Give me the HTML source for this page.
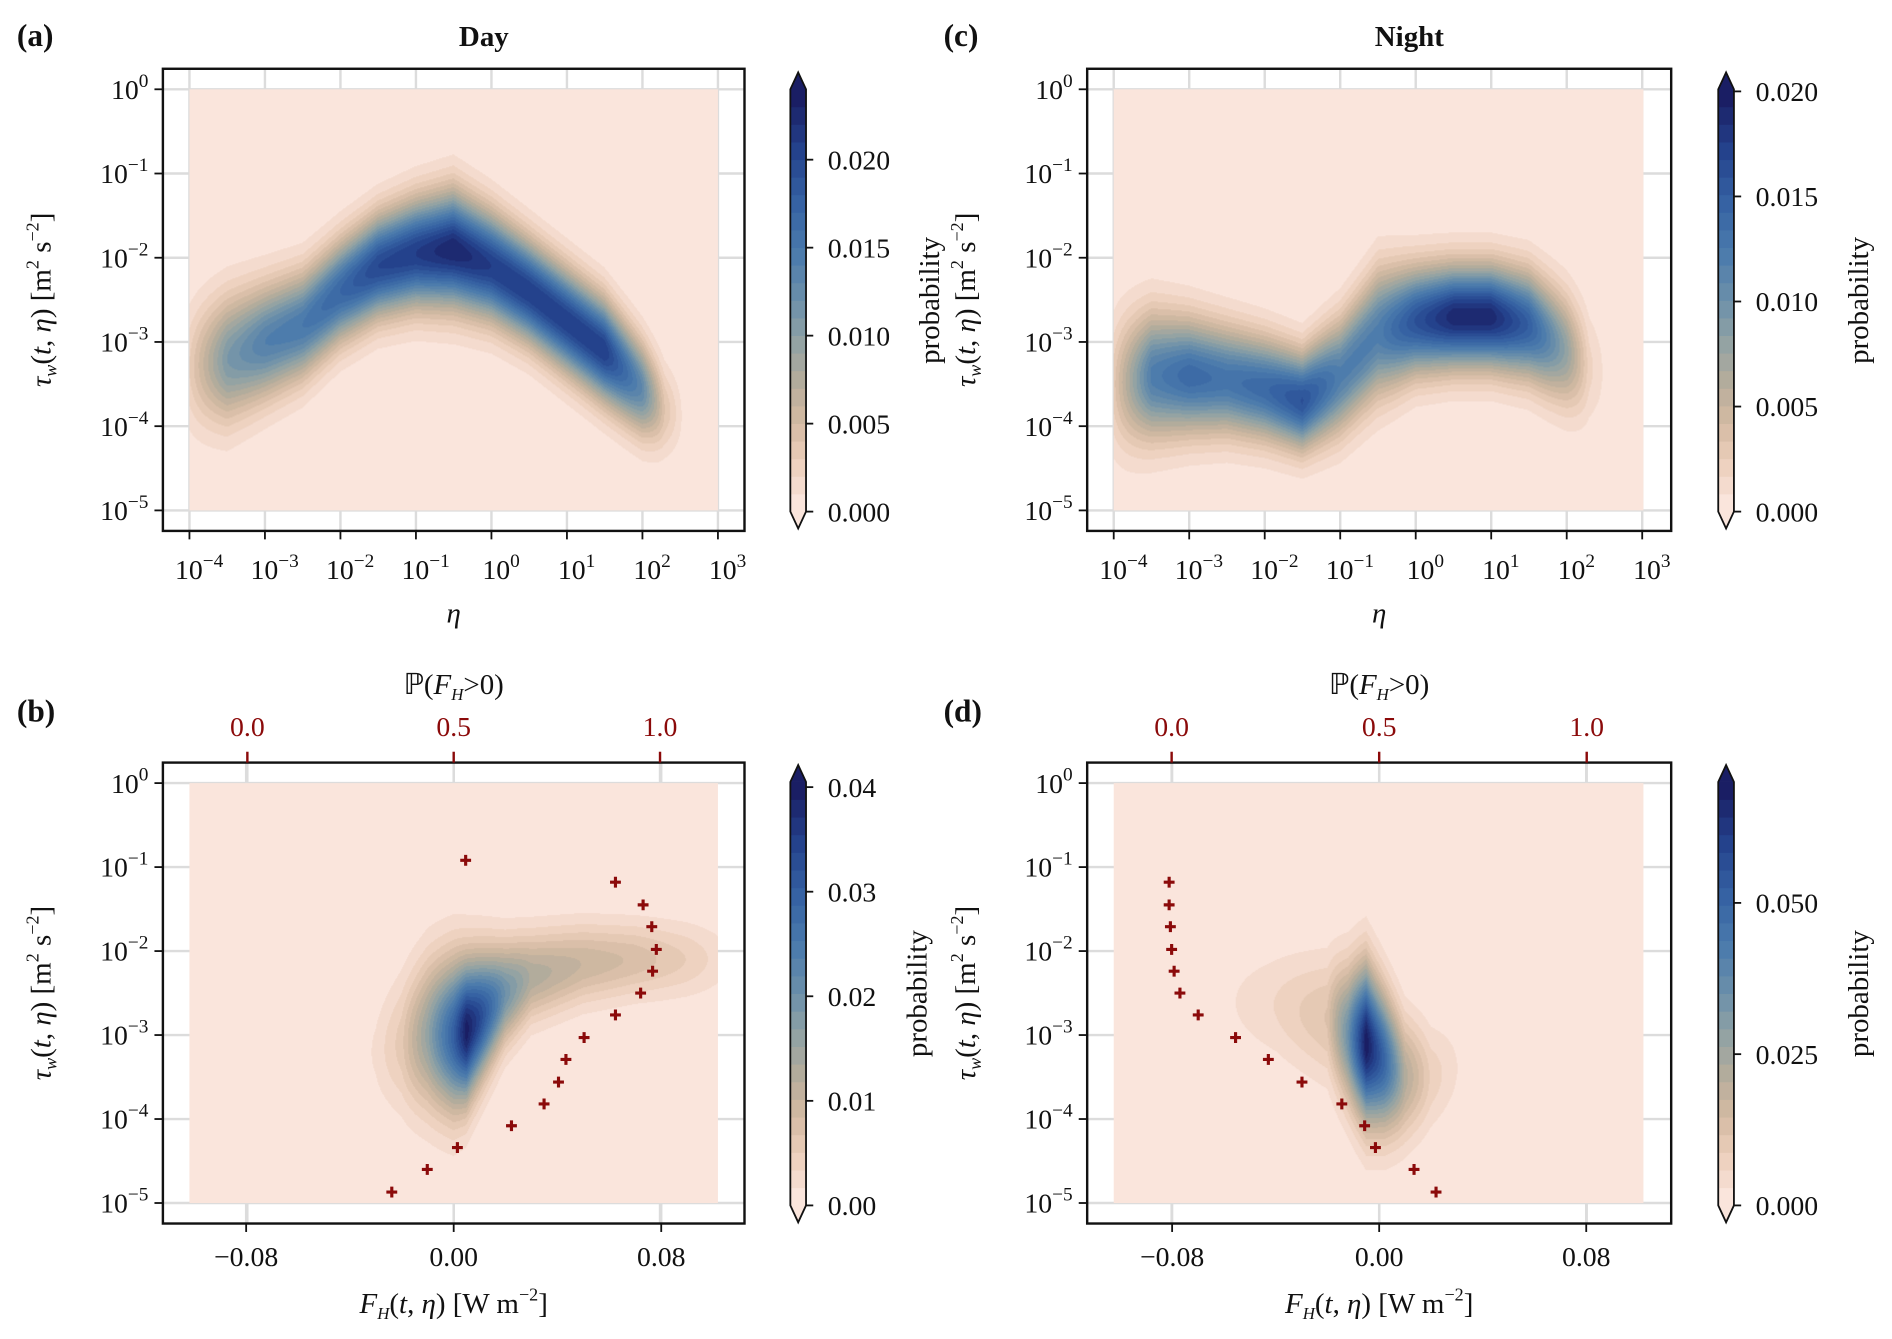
<!DOCTYPE html>
<html><head><meta charset="utf-8">
<style>
html,body{margin:0;padding:0;background:#fff;}
#wrap{position:absolute;left:0;top:0;width:1568px;height:1110px;transform:scale(1.20663);transform-origin:0 0;overflow:hidden;}
#wrap svg{position:absolute;left:0;top:0;}
canvas{position:absolute;}
text{font-family:"Liberation Serif",serif;fill:#111;}
</style></head>
<body>
<div id="wrap">
<svg id="gridsvg" width="1568" height="1110" viewBox="0 0 1568 1110"></svg>
<svg id="svg" width="1568" height="1110" viewBox="0 0 1568 1110"></svg>
</div>
<script>
// ===== DATA =====
const aRidgeX = [-4.2,-4,-3.5,-3,-2.5,-2,-1.5,-1,-0.5,0,0.5,1,1.5,2,2.3,2.6];
const aRidgeY = [-3.3,-3.3,-3.2,-3.0,-2.8,-2.4,-2.1,-1.95,-1.9,-2.1,-2.4,-2.75,-3.1,-3.55,-3.8,-3.9];
const aRidgePeak = [0,0.003,0.011,0.014,0.015,0.017,0.02,0.021,0.023,0.021,0.021,0.021,0.021,0.013,0.004,0];
const aRidgeW = [0.5,0.5,0.5,0.45,0.42,0.4,0.4,0.42,0.45,0.42,0.4,0.4,0.4,0.38,0.35,0.3];
const cRidgeX = [-4.2,-4,-3.5,-3,-2.5,-2,-1.5,-1,-0.5,0,0.5,1,1.5,2,2.3,2.6];
const cRidgeY = [-3.5,-3.5,-3.4,-3.4,-3.45,-3.55,-3.7,-3.4,-2.9,-2.75,-2.7,-2.7,-2.8,-3.1,-3.3,-3.4];
const cRidgePeak = [0,0.003,0.012,0.014,0.013,0.014,0.016,0.012,0.012,0.016,0.019,0.019,0.015,0.008,0.002,0];
const cRidgeW = [0.55,0.55,0.5,0.45,0.42,0.4,0.38,0.45,0.5,0.42,0.4,0.4,0.42,0.45,0.45,0.4];
const bRidgeX = [-0.04,-0.03,-0.02,-0.01,0,0.005,0.01,0.02,0.03,0.05,0.07,0.09,0.105];
const bRidgeY = [-3.2,-3.2,-3.1,-3.0,-3.0,-2.95,-2.8,-2.5,-2.3,-2.15,-2.1,-2.1,-2.1];
const bRidgePeak = [0,0.002,0.006,0.016,0.03,0.04,0.034,0.02,0.013,0.01,0.008,0.005,0.002];
const bRidgeW = [0.45,0.45,0.55,0.6,0.6,0.55,0.5,0.4,0.35,0.32,0.3,0.3,0.3];
const dRidgeX = [-0.07,-0.06,-0.04,-0.02,-0.012,-0.005,0.002,0.01,0.02,0.03,0.04];
const dRidgeY = [-2.6,-2.6,-2.65,-2.8,-3.0,-3.1,-3.3,-3.5,-3.5,-3.4,-3.4];
const dRidgePeak = [0,0.002,0.006,0.012,0.035,0.07,0.05,0.022,0.008,0.003,0];
const dRidgeW = [0.4,0.4,0.45,0.5,0.55,0.6,0.55,0.48,0.42,0.38,0.3];
const bCrossLogTau = [-4.87,-4.6,-4.34,-4.08,-3.82,-3.56,-3.29,-3.03,-2.76,-2.5,-2.24,-1.98,-1.71,-1.45,-1.18,-0.92];
const bCrossProb = [0.35,0.436,0.509,0.64,0.719,0.754,0.772,0.816,0.892,0.953,0.982,0.991,0.98,0.959,0.892,0.529];
const dCrossLogTau = [-4.87,-4.6,-4.34,-4.08,-3.82,-3.56,-3.29,-3.03,-2.76,-2.5,-2.24,-1.98,-1.71,-1.45,-1.18];
const dCrossProb = [0.637,0.584,0.491,0.465,0.41,0.314,0.233,0.154,0.064,0.02,0.006,0.0,-0.003,-0.006,-0.006];
const logYTicks = [0,-1,-2,-3,-4,-5];
const logXTicks = [-4,-3,-2,-1,0,1,2,3];
const fTicks = [-0.08,0,0.08];
const fTickLabels = ["\u22120.08","0.00","0.08"];
const probTicks = [0,0.5,1];
const probTickLabels = ["0.0","0.5","1.0"];
const cbA = [0,0.005,0.01,0.015,0.02]; const cbALabels=["0.000","0.005","0.010","0.015","0.020"];
const cbC = [0,0.005,0.01,0.015,0.02]; const cbCLabels=["0.000","0.005","0.010","0.015","0.020"];
const cbB = [0,0.01,0.02,0.03,0.04]; const cbBLabels=["0.00","0.01","0.02","0.03","0.04"];
const cbD = [0,0.025,0.05]; const cbDLabels=["0.000","0.025","0.050"];

// ===== RENDER =====
const S = 1.20663;
const NS = "http://www.w3.org/2000/svg";
const svg = document.getElementById('svg');
const gsvg = document.getElementById('gridsvg');
const wrap = document.getElementById('wrap');
const RED = "#8b0a0a";
function mk(tag, attrs, parent){const e=document.createElementNS(NS,tag);for(const k in attrs)e.setAttribute(k,attrs[k]);(parent||svg).appendChild(e);return e;}
const stops=[[0,[250,229,220]],[0.1,[236,207,188]],[0.2,[212,186,162]],[0.3,[180,172,156]],[0.4,[145,162,164]],[0.5,[108,144,170]],[0.62,[74,122,172]],[0.75,[52,96,162]],[0.87,[36,66,140]],[1,[26,30,100]]];
function cmap(t){t=Math.max(0,Math.min(1,t));for(let i=1;i<stops.length;i++){if(t<=stops[i][0]){const a=stops[i-1],b=stops[i];const f=(t-a[0])/(b[0]-a[0]);return [0,1,2].map(j=>Math.round(a[1][j]+f*(b[1][j]-a[1][j])));}}return stops[stops.length-1][1];}
const NL=24;
function interp(xs,ys,x){if(x<=xs[0])return ys[0];for(let i=1;i<xs.length;i++){if(x<=xs[i]){const f=(x-xs[i-1])/(xs[i]-xs[i-1]);return ys[i-1]+f*(ys[i]-ys[i-1]);}}return ys[ys.length-1];}
function field(rx,ry,rp,rw,x,ly){if(x<rx[0]||x>rx[rx.length-1])return 0;const c=interp(rx,ry,x),p=interp(rx,rp,x),w=interp(rx,rw,x);const d=(ly-c)/w;return p*Math.exp(-0.5*d*d);}

function tenPow(x,y,exp,anchor,parent,name){
  const t=mk('text',{x:x,y:y,'font-size':23,'text-anchor':anchor||'end'},parent);
  
  
  t.appendChild(document.createTextNode('10'));
  const s=document.createElementNS(NS,'tspan');s.setAttribute('dy','-10');s.setAttribute('font-size','16');
  s.textContent=(exp<0?'\u2212':'')+Math.abs(exp);t.appendChild(s);
  return t;
}
function txt(x,y,str,size,attrs,name){const t=mk('text',Object.assign({x:x,y:y,'font-size':size},attrs||{}));t.textContent=str;
  
  
  return t;}

function panel(o){
  const g=mk('g',{});
  
  
  const gg=mk('g',{},gsvg);
  
  
  const [bx0,by0,bx1,by1]=o.box;
  const px=o.px, py=o.py;
  const ex0=o.ext[0],ex1=o.ext[1],ey0=py(0),ey1=py(-5);
  const cw=Math.round((ex1-ex0)*S),ch=Math.round((ey1-ey0)*S);
  const cv=document.createElement('canvas');cv.width=cw;cv.height=ch;
  cv.style.left=ex0+'px';cv.style.top=ey0+'px';cv.style.width=(ex1-ex0)+'px';cv.style.height=(ey1-ey0)+'px';
  
  
  wrap.insertBefore(cv,svg);
  const ctx=cv.getContext('2d');const img=ctx.createImageData(cw,ch);
  for(let j=0;j<ch;j++){const ly=o.invy(ey0+(j+0.5)/S);
    for(let i=0;i<cw;i++){const x=o.invx(ex0+(i+0.5)/S);
      const v=field(o.rx,o.ry,o.rp,o.rw,x,ly);
      let k=Math.floor(v/o.vmax*NL);if(k>NL-1)k=NL-1;
      const c=cmap(k/(NL-1));const idx=(j*cw+i)*4;
      img.data[idx]=c[0];img.data[idx+1]=c[1];img.data[idx+2]=c[2];img.data[idx+3]=255;}}
  ctx.putImageData(img,0,0);
  o.xticks.forEach((v,i)=>{const x=px(v);const l=mk('line',{x1:x,x2:x,y1:by0,y2:by1,stroke:'#dcdcdc','stroke-width':2},gg);
    
    });
  logYTicks.forEach(v=>{const y=py(v);const l=mk('line',{x1:bx0,x2:bx1,y1:y,y2:y,stroke:'#dcdcdc','stroke-width':2},gg);
    
    });
  if(o.topTicks){probTicks.forEach(v=>{const x=o.ptx(v);const l=mk('line',{x1:x,x2:x,y1:by0,y2:by1,stroke:'#dcdcdc','stroke-width':2},gg);
    
    });}
  const fr=mk('rect',{x:bx0,y:by0,width:bx1-bx0,height:by1-by0,fill:'none',stroke:'#111','stroke-width':2},g);
  
  
  logYTicks.forEach(v=>{const y=py(v);mk('line',{x1:bx0-7,x2:bx0,y1:y,y2:y,stroke:'#111','stroke-width':1.5},g);
    tenPow(bx0-12,y+8,v,'end',g,'y-tick-label');});
  o.xticks.forEach((v,i)=>{const x=px(v);mk('line',{x1:x,x2:x,y1:by1,y2:by1+7,stroke:'#111','stroke-width':1.5},g);
    if(o.logx)tenPow(x+8,by1+40,v,'middle',g,'x-tick-label');
    else{const t=mk('text',{x:x,y:by1+35,'font-size':23,'text-anchor':'middle'},g);t.textContent=o.xlabels[i];
      
      }});
  if(o.topTicks){probTicks.forEach((v,i)=>{const x=o.ptx(v);mk('line',{x1:x,x2:x,y1:by0-9,y2:by0,stroke:RED,'stroke-width':2},g);
    const t=mk('text',{x:x,y:by0-22,'font-size':23,'text-anchor':'middle',style:'fill:'+RED},g);t.textContent=probTickLabels[i];
    
    });
    const tt=mk('text',{x:(bx0+bx1)/2,y:by0-57,'font-size':24,'text-anchor':'middle'},g);
    
    
    tt.innerHTML='\u2119(<tspan font-style="italic">F</tspan><tspan font-style="italic" font-size="14" dy="5">H</tspan><tspan dy="-5">&gt;0)</tspan>';
    o.cy.forEach((ly,i)=>{const x=o.ptx(o.cp[i]),y=py(ly);
      const p=mk('path',{d:`M${x-4.5},${y}H${x+4.5}M${x},${y-4.5}V${y+4.5}`,stroke:RED,'stroke-width':2.6},g);
      
      });
  }
  const yl=mk('text',{x:0,y:0,'font-size':24,'text-anchor':'middle',transform:`translate(${bx0-93},${(by0+by1)/2}) rotate(-90)`},g);
  
  
  yl.innerHTML='<tspan font-style="italic">\u03c4</tspan><tspan font-style="italic" font-size="15" dy="5">w</tspan><tspan dy="-5">(<tspan font-style="italic">t</tspan>, <tspan font-style="italic">\u03b7</tspan>)  [m</tspan><tspan font-size="15" dy="-10">2</tspan><tspan dy="10"> s</tspan><tspan font-size="15" dy="-10">\u22122</tspan><tspan dy="10">]</tspan>';
  const xl=mk('text',{x:(bx0+bx1)/2,y:by1+(o.logx?76:74),'font-size':24,'text-anchor':'middle'},g);
  
  
  if(o.logx)xl.innerHTML='<tspan font-style="italic">\u03b7</tspan>';
  else xl.innerHTML='<tspan font-style="italic">F</tspan><tspan font-style="italic" font-size="14" dy="5">H</tspan><tspan dy="-5">(<tspan font-style="italic">t</tspan>, <tspan font-style="italic">\u03b7</tspan>) [W m</tspan><tspan font-size="15" dy="-10">\u22122</tspan><tspan dy="10">]</tspan>';
  const cx0=o.cbx,cx1=o.cbx+13,ctop=o.cb0top,cbot=o.cb0bot;
  const cg=mk('g',{},g);
  
  
  const hh=(cbot-ctop)/NL;
  for(let k=0;k<NL;k++){const c=cmap(k/(NL-1));mk('rect',{x:cx0,y:cbot-(k+1)*hh-0.3,width:13,height:hh+0.6,fill:`rgb(${c})`},cg);}
  let ct=cmap(1);mk('path',{d:`M${cx0},${ctop}L${(cx0+cx1)/2},${ctop-14}L${cx1},${ctop}Z`,fill:`rgb(${ct})`},cg);
  let cb=cmap(0);mk('path',{d:`M${cx0},${cbot}L${(cx0+cx1)/2},${cbot+14}L${cx1},${cbot}Z`,fill:`rgb(${cb})`},cg);
  mk('path',{d:`M${cx0},${cbot}V${ctop}L${(cx0+cx1)/2},${ctop-14}L${cx1},${ctop}V${cbot}L${(cx0+cx1)/2},${cbot+14}Z`,fill:'none',stroke:'#111','stroke-width':1.5},cg);
  o.cbt.forEach((v,i)=>{const y=cbot-(v/o.vmax)*(cbot-ctop);mk('line',{x1:cx1,x2:cx1+6,y1:y,y2:y,stroke:'#111','stroke-width':1.5},cg);
    const t=mk('text',{x:cx1+18,y:y+8,'font-size':23},cg);t.textContent=o.cbl[i];
    
    });
  const pl=mk('text',{x:0,y:0,'font-size':24,'text-anchor':'middle',transform:`translate(${o.cblx},${(ctop+cbot)/2}) rotate(-90)`},cg);
  pl.textContent='probability';
  
  
}
function logX(x0){return v=>x0+(v+4)*62.57;}
function logXinv(x0){return p=>(p-x0)/62.57-4;}
const pyTop=v=>74-v*69.8, pyTopInv=p=>(74-p)/69.8;
const pyBot=v=>649-v*69.6, pyBotInv=p=>(649-p)/69.6;

panel({name:'panel-a-day',box:[135,57,617,440],px:logX(157),invx:logXinv(157),py:pyTop,invy:pyTopInv,ext:[157,595],logx:true,xticks:logXTicks,
  rx:aRidgeX,ry:aRidgeY,rp:aRidgePeak,rw:aRidgeW,vmax:0.024,cbx:655,cb0top:74,cb0bot:424,cbt:cbA,cbl:cbALabels,cblx:778});
panel({name:'panel-c-night',box:[901,57,1385,440],px:logX(923),invx:logXinv(923),py:pyTop,invy:pyTopInv,ext:[923,1362],logx:true,xticks:logXTicks,
  rx:cRidgeX,ry:cRidgeY,rp:cRidgePeak,rw:cRidgeW,vmax:0.0201,cbx:1424,cb0top:74,cb0bot:424,cbt:cbC,cbl:cbCLabels,cblx:1548});
panel({name:'panel-b-day-flux',box:[135,632,617,1014],px:v=>376+v*2150,invx:p=>(p-376)/2150,py:pyBot,invy:pyBotInv,ext:[157,595],logx:false,xticks:fTicks,xlabels:fTickLabels,
  rx:bRidgeX,ry:bRidgeY,rp:bRidgePeak,rw:bRidgeW,vmax:0.0405,cbx:655,cb0top:648,cb0bot:999,cbt:cbB,cbl:cbBLabels,cblx:768,
  topTicks:true,ptx:v=>205+v*342,cy:bCrossLogTau,cp:bCrossProb});
panel({name:'panel-d-night-flux',box:[901,632,1385,1014],px:v=>1143+v*2145,invx:p=>(p-1143)/2145,py:pyBot,invy:pyBotInv,ext:[923,1362],logx:false,xticks:fTicks,xlabels:fTickLabels,
  rx:dRidgeX,ry:dRidgeY,rp:dRidgePeak,rw:dRidgeW,vmax:0.07,cbx:1424,cb0top:648,cb0bot:999,cbt:cbD,cbl:cbDLabels,cblx:1548,
  topTicks:true,ptx:v=>971+v*344,cy:dCrossLogTau,cp:dCrossProb});

txt(14,38,'(a)',26,{'font-weight':'bold'},'panel-label-a');
txt(14,598,'(b)',26,{'font-weight':'bold'},'panel-label-b');
txt(782,38,'(c)',26,{'font-weight':'bold'},'panel-label-c');
txt(782,598,'(d)',26,{'font-weight':'bold'},'panel-label-d');
txt(401,38,'Day',24,{'font-weight':'bold','text-anchor':'middle'},'title-day');
txt(1168,38,'Night',24,{'font-weight':'bold','text-anchor':'middle'},'title-night');
</script>
</body></html>
